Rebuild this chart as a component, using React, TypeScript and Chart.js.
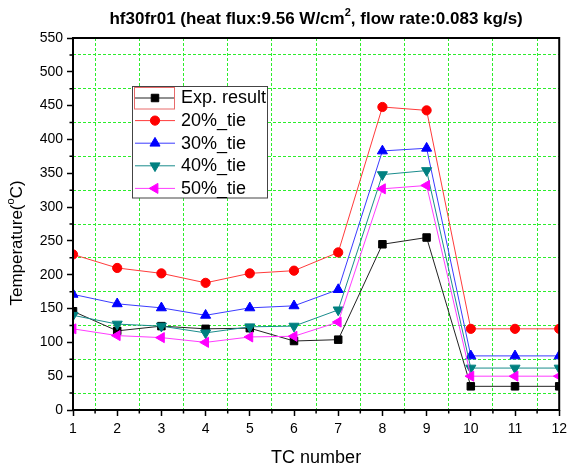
import React, { useEffect, useRef } from 'react';
import { Chart, registerables } from 'chart.js';
import { drawPoint } from 'chart.js/helpers';

Chart.register(...registerables);

const tcNumbers = [1, 2, 3, 4, 5, 6, 7, 8, 9, 10, 11, 12];
const expResult = [146, 117, 124, 120, 121, 102, 104, 245, 255, 35, 35, 35];
const tie20 = [230, 210, 202, 188, 202, 206, 233, 448, 443, 120, 120, 120];
const tie30 = [171, 157, 151, 140, 151, 154, 178, 383, 387, 80, 80, 80];
const tie40 = [140, 127, 124, 114, 123, 124, 148, 348, 354, 62, 62, 62];
const tie50 = [120, 110, 107, 100, 108, 109, 130, 327, 332, 50, 50, 50];
const seriesNames = ['Exp. result', '20%_tie', '30%_tie', '40%_tie', '50%_tie'];
const seriesValues = [expResult, tie20, tie30, tie40, tie50];

const titleParts = [
  { text: 'hf30fr01 (heat flux:9.56 W/cm' },
  { text: '2', sup: true },
  { text: ', flow rate:0.083 kg/s)' },
];
const yTitleParts = [{ text: 'Temperature(' }, { text: 'o', sup: true }, { text: 'C)' }];
const xTitle = 'TC number';

const styles = [
  { line: '#222222', marker: '#000000', pointStyle: 'rect', radius: 5.3, rotation: 0 },
  { line: '#ff3b3b', marker: '#ff0000', pointStyle: 'circle', radius: 4.6, rotation: 0 },
  { line: '#3b3bff', marker: '#0000ff', pointStyle: 'triangle', radius: 5.8, rotation: 0 },
  { line: '#1a8c8c', marker: '#008080', pointStyle: 'triangle', radius: 5.8, rotation: 180 },
  { line: '#ff3bff', marker: '#ff00ff', pointStyle: 'triangle', radius: 5.8, rotation: -90 },
];

const FONT = '"Liberation Sans", Arial, sans-serif';
const GREEN = '#2cee2c';

function drawRich(ctx: CanvasRenderingContext2D, parts: any[], cx: number, cy: number, size: number, weight: string) {
  const main = `${weight} ${size}px ${FONT}`;
  const small = `${weight} ${Math.round(size * 0.62)}px ${FONT}`;
  let total = 0;
  const widths = parts.map((p) => {
    ctx.font = p.sup ? small : main;
    const w = ctx.measureText(p.text).width;
    total += w;
    return w;
  });
  let x = cx - total / 2;
  ctx.textAlign = 'left';
  ctx.textBaseline = 'middle';
  parts.forEach((p, i) => {
    ctx.font = p.sup ? small : main;
    ctx.fillText(p.text, x, p.sup ? cy - size * 0.38 : cy);
    x += widths[i];
  });
}

const overlay = {
  id: 'overlay',
  beforeDraw(chart: any) {
    const { ctx, width, height } = chart;
    ctx.save();
    ctx.fillStyle = '#ffffff';
    ctx.fillRect(0, 0, width, height);
    ctx.restore();
  },
  afterDraw(chart: any) {
    const { ctx, chartArea: a, scales } = chart;
    ctx.save();
    ctx.strokeStyle = '#000';
    ctx.lineWidth = 1.5;
    ctx.beginPath();
    for (let v = 25; v < 550; v += 50) {
      const y = scales.y.getPixelForValue(v);
      ctx.moveTo(a.left - 3.5, y);
      ctx.lineTo(a.left, y);
    }
    for (let v = 1.5; v < 12; v += 1) {
      const x = scales.x.getPixelForValue(v);
      ctx.moveTo(x, a.bottom);
      ctx.lineTo(x, a.bottom + 3.5);
    }
    ctx.stroke();
    ctx.lineWidth = 2;
    ctx.strokeRect(a.left, a.top, a.right - a.left, a.bottom - a.top);

    ctx.fillStyle = '#000';
    drawRich(ctx, titleParts, (a.left + a.right) / 2, 19, 17, 'bold');

    ctx.font = `18px ${FONT}`;
    ctx.textAlign = 'center';
    ctx.textBaseline = 'middle';
    ctx.fillText(xTitle, (a.left + a.right) / 2, 458);

    ctx.save();
    ctx.translate(17.5, 243);
    ctx.rotate(-Math.PI / 2);
    drawRich(ctx, yTitleParts, 0, 0, 17, 'normal');
    ctx.restore();

    // legend
    const lx = 132.5, ly = 86.5, lw = 135, lh = 111.5;
    ctx.fillStyle = '#fff';
    ctx.fillRect(lx, ly, lw, lh);
    ctx.strokeStyle = '#444';
    ctx.lineWidth = 1;
    ctx.strokeRect(lx, ly, lw, lh);
    seriesNames.forEach((name, i) => {
      const st = styles[i];
      const y = 98 + i * 22.6;
      ctx.strokeStyle = st.line;
      ctx.lineWidth = 1;
      ctx.beginPath();
      ctx.moveTo(135, y);
      ctx.lineTo(175, y);
      ctx.stroke();
      ctx.fillStyle = st.marker;
      ctx.strokeStyle = st.marker;
      drawPoint(ctx, { pointStyle: st.pointStyle, radius: st.radius, rotation: st.rotation, borderWidth: 1 } as any, 155, y);
      ctx.fillStyle = '#000';
      ctx.font = `18px ${FONT}`;
      ctx.textAlign = 'left';
      ctx.textBaseline = 'middle';
      ctx.fillText(name, 181, y + 0.5);
    });
    ctx.strokeStyle = '#e86a6a';
    ctx.lineWidth = 1;
    ctx.strokeRect(134.5, 87.5, 40, 21.5);
    ctx.restore();
  },
};

export default function App() {
  const ref = useRef<HTMLCanvasElement>(null);
  useEffect(() => {
    document.body.style.margin = '0';
    const canvas = ref.current!;
    const datasets = seriesValues.map((vals, i) => ({
      label: seriesNames[i],
      data: tcNumbers.map((x, j) => ({ x, y: vals[j] })),
      borderColor: styles[i].line,
      borderWidth: 1,
      backgroundColor: styles[i].marker,
      pointBackgroundColor: styles[i].marker,
      pointBorderColor: styles[i].marker,
      pointBorderWidth: 1,
      pointRadius: styles[i].radius,
      pointStyle: styles[i].pointStyle,
      pointRotation: styles[i].rotation,
      tension: 0,
      clip: 0,
      order: seriesNames.length - i,
    }));
    const isMajorY = (v: number) => v % 50 === 0;
    const isMajorX = (v: number) => Number.isInteger(v);
    const chart = new Chart(canvas, {
      type: 'line',
      data: { datasets },
      plugins: [overlay],
      options: {
        responsive: false,
        animation: false,
        layout: { padding: { top: 38, right: 9, left: 0, bottom: 0 } },
        plugins: { legend: { display: false }, title: { display: false }, tooltip: { enabled: false } },
        scales: {
          x: {
            type: 'linear',
            min: 1,
            max: 12,
            afterFit: (s: any) => { s.height = 60; },
            ticks: {
              stepSize: 0.5,
              autoSkip: false,
              maxRotation: 0,
              padding: 5,
              color: '#000',
              font: { family: FONT, size: 14 },
              callback: (v: any) => (isMajorX(Number(v)) ? String(v) : ''),
            },
            grid: {
              color: (c: any) => (c.tick && !isMajorX(c.tick.value) ? GREEN : 'rgba(0,0,0,0)'),
              tickColor: (c: any) => (c.tick && isMajorX(c.tick.value) ? '#000' : 'rgba(0,0,0,0)'),
              tickLength: 6,
              tickWidth: 1.5,
              lineWidth: 1,
            },
            border: { display: false, dash: [3, 2] },
          },
          y: {
            type: 'linear',
            min: 0,
            max: 550,
            afterFit: (s: any) => { s.width = 73; },
            ticks: {
              stepSize: 25,
              autoSkip: false,
              padding: 4,
              color: '#000',
              font: { family: FONT, size: 14 },
              callback: (v: any) => (isMajorY(Number(v)) ? String(v) : ''),
            },
            grid: {
              color: (c: any) => (c.tick && !isMajorY(c.tick.value) ? GREEN : 'rgba(0,0,0,0)'),
              tickColor: (c: any) => (c.tick && isMajorY(c.tick.value) ? '#000' : 'rgba(0,0,0,0)'),
              tickLength: 6,
              tickWidth: 1.5,
              lineWidth: 1,
            },
            border: { display: false, dash: [3, 2] },
          },
        },
      } as any,
    });
    return () => chart.destroy();
  }, []);
  return (
    <div style={{ width: 572, height: 470 }}>
      <canvas ref={ref} width={572} height={470} style={{ width: 572, height: 470, display: 'block' }} />
    </div>
  );
}
